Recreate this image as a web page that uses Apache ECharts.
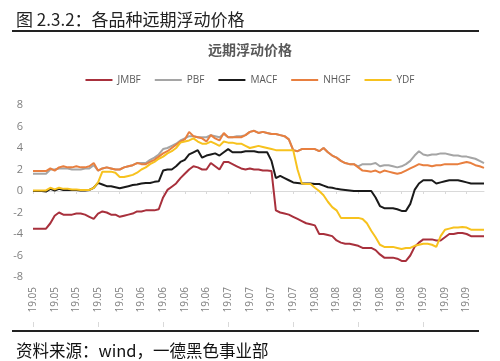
<!DOCTYPE html>
<html>
<head>
<meta charset="utf-8">
<script src="https://cdn.jsdelivr.net/npm/echarts@6/dist/echarts.min.js"></script>
<style>
html,body{margin:0;padding:0;background:#fff;}
#c{width:500px;height:361px;}
</style>
</head>
<body>
<div id="c"></div>
<script>
// Tick labels shown on the x axis (one every 5 trading days)
var tickLabels = ["19.05","19.05","19.05","19.05","19.05","19.06","19.06","19.06","19.06","19.07","19.07","19.07","19.07","19.08","19.08","19.08","19.08","19.08","19.09","19.09","19.09"];
// categories: each tick label covers 5 trading days
var categories = [];
tickLabels.forEach(function (l) { for (var k = 0; k < 5; k++) categories.push(l); });

var seriesNames = ["JMBF", "PBF", "MACF", "NHGF", "YDF"];

var JMBF = [-3.5,-3.5,-3.5,-3.5,-3.0,-2.3,-2.0,-2.2,-2.2,-2.2,-2.1,-2.1,-2.2,-2.4,-2.6,-2.1,-1.9,-2.0,-2.2,-2.2,
  -2.4,-2.3,-2.2,-2.1,-1.9,-1.9,-1.8,-1.8,-1.8,-1.7,-0.6,0.1,0.4,0.7,1.2,1.6,2.0,2.3,2.2,2.0,
  2.0,2.6,2.3,2.0,2.7,2.7,2.5,2.3,2.1,2.0,2.1,2.0,2.0,1.9,1.9,1.85,-1.8,-2.0,-2.1,-2.2,
  -2.4,-2.6,-2.8,-3.0,-3.1,-3.2,-4.0,-4.0,-4.1,-4.2,-4.6,-4.8,-4.9,-4.9,-5.0,-5.1,-5.3,-5.3,-5.3,-5.5,
  -5.9,-6.2,-6.2,-6.2,-6.3,-6.5,-6.5,-6.0,-5.2,-4.8,-4.5,-4.5,-4.5,-4.6,-4.6,-4.3,-4.0,-4.0,-3.9,-3.9,
  -4.0,-4.2,-4.2,-4.2,-4.2];
var PBF = [1.6,1.6,1.6,1.6,2.0,2.0,2.1,2.1,2.1,2.0,2.0,2.0,2.1,2.1,2.4,1.9,2.1,2.2,2.1,2.0,
  2.0,2.2,2.3,2.4,2.6,2.6,2.6,2.9,3.1,3.4,3.9,4.0,4.2,4.4,4.7,4.9,5.1,5.1,5.0,5.0,
  5.0,5.2,5.1,5.0,5.3,5.0,5.0,5.1,5.1,5.2,5.5,5.6,5.4,5.5,5.4,5.3,5.3,5.2,5.1,4.8,
  3.8,3.7,3.9,3.9,3.9,3.9,3.7,4.0,3.6,3.3,3.1,2.8,2.6,2.5,2.5,2.3,2.5,2.5,2.5,2.6,
  2.3,2.4,2.4,2.3,2.2,2.3,2.5,2.8,3.3,3.7,3.4,3.3,3.4,3.4,3.5,3.5,3.4,3.3,3.3,3.2,
  3.2,3.1,3.0,2.8,2.6];
var MACF = [0,0,0,-0.05,0.2,0.05,0.2,0.1,0.1,0.1,0.1,0.05,0.05,0.1,0.3,0.75,0.6,0.45,0.45,0.35,
  0.25,0.35,0.45,0.55,0.6,0.7,0.75,0.75,0.85,0.9,1.9,2.0,2.0,2.3,2.7,2.9,3.4,3.6,3.8,3.1,
  3.3,3.4,3.5,3.3,3.6,3.9,3.6,3.6,3.6,3.7,3.7,3.7,3.6,3.6,3.6,2.8,1.2,1.4,1.2,1.0,
  0.8,0.75,0.7,0.7,0.7,0.65,0.65,0.5,0.35,0.3,0.2,0.15,0.1,0.05,0,0,0,0,0,-0.6,
  -1.4,-1.6,-1.6,-1.6,-1.7,-1.85,-1.85,-1.2,0.1,0.7,1.0,1.0,1.0,0.7,0.8,0.9,1.0,1.0,1.0,0.9,
  0.8,0.7,0.7,0.7,0.7];
var NHGF = [1.85,1.85,1.85,1.85,2.1,1.9,2.2,2.3,2.2,2.2,2.3,2.2,2.2,2.3,2.6,1.9,2.1,2.2,2.1,2.0,
  2.0,2.2,2.3,2.4,2.6,2.5,2.5,2.7,2.9,3.2,3.5,3.7,4.0,4.3,4.6,4.8,5.5,5.1,5.0,4.9,
  4.6,5.2,4.9,4.7,5.4,5.0,5.0,5.0,5.0,5.2,5.5,5.6,5.4,5.5,5.4,5.3,5.3,5.2,5.1,4.8,
  3.8,3.7,3.9,3.9,3.9,3.9,3.7,4.0,3.6,3.3,3.1,2.8,2.6,2.5,2.5,2.2,1.9,1.85,1.8,1.9,
  1.7,1.9,1.8,1.7,1.6,1.7,1.9,2.1,2.3,2.5,2.4,2.4,2.3,2.4,2.4,2.5,2.5,2.5,2.5,2.6,
  2.7,2.6,2.4,2.3,2.15];
var YDF = [0.05,0.05,0.05,0.05,0.3,0.15,0.3,0.2,0.2,0.15,0.15,0.1,0.1,0.1,0.3,0.8,1.8,1.8,1.8,1.7,
  1.3,1.3,1.4,1.5,1.7,2.0,2.2,2.5,2.7,3.0,3.2,3.5,3.7,4.0,4.5,4.6,4.7,4.9,4.6,4.4,
  4.4,4.6,4.4,4.2,4.6,4.5,4.5,4.4,4.4,4.2,4.0,4.1,4.2,4.1,4.0,3.9,3.8,3.8,3.8,3.8,
  3.8,2.0,0.7,0.65,0.65,0.3,0,-0.4,-1.0,-1.5,-1.8,-2.5,-2.5,-2.5,-2.5,-2.5,-2.6,-3.0,-3.7,-4.3,
  -5.0,-5.2,-5.2,-5.2,-5.3,-5.4,-5.3,-5.3,-5.1,-5.0,-4.9,-4.9,-5.0,-5.2,-4.2,-3.6,-3.5,-3.4,-3.4,-3.35,
  -3.4,-3.6,-3.6,-3.6,-3.6];
var seriesData = [JMBF, PBF, MACF, NHGF, YDF];
var colors = ["#A8303C", "#A5A5A5", "#1A1A1A", "#E87F3F", "#F7C21E"];

var yTicks = {min: -8, max: 8, interval: 2};

var chart = echarts.init(document.getElementById('c'), null, {renderer: 'canvas'});
var cjk = '"Noto Sans CJK SC", "Noto Sans", sans-serif';
var lat = '"Open Sans", "Noto Sans", sans-serif';

var option = {
  backgroundColor: '#ffffff',
  animation: false,
  color: colors,
  title: [
    {text: '图 2.3.2：各品种远期浮动价格', left: 11, top: 6,
     textStyle: {fontFamily: cjk, fontSize: 17, fontWeight: 'normal', color: '#222'}},
    {text: '远期浮动价格', left: 'center', top: 38,
     textStyle: {fontFamily: cjk, fontSize: 14, fontWeight: 'bold', color: '#595959'}},
    {text: '资料来源：wind，一德黑色事业部', left: 11, top: 337,
     textStyle: {fontFamily: cjk, fontSize: 16.5, fontWeight: 'normal', color: '#111'}}
  ],
  graphic: [
    {type: 'line', shape: {x1: 12, y1: 31, x2: 479, y2: 31}, style: {stroke: '#222', lineWidth: 2}},
    {type: 'line', shape: {x1: 12, y1: 331, x2: 479, y2: 331}, style: {stroke: '#222', lineWidth: 2}}
  ],
  legend: {
    data: seriesNames, top: 70, left: 'center',
    icon: 'rect', itemWidth: 27, itemHeight: 2, itemGap: 14,
    textStyle: {fontFamily: lat, fontSize: 10, color: '#595959'}
  },
  grid: {left: 33, right: 16, top: 105, bottom: 84, containLabel: false},
  xAxis: [
    {type: 'category', data: categories, boundaryGap: false,
     axisLine: {onZero: true, lineStyle: {color: '#D9D9D9', width: 1}},
     axisTick: {show: true, interval: 4, length: 3, inside: false, lineStyle: {color: '#D9D9D9'}},
     axisLabel: {show: false}, splitLine: {show: false}},
    {type: 'category', data: categories, boundaryGap: false, position: 'bottom',
     axisLine: {show: false, onZero: false}, axisTick: {show: false},
     axisLabel: {show: true, interval: 4, rotate: 90, margin: 10,
                 fontFamily: lat, fontSize: 10, color: '#808080'},
     splitLine: {show: false}},
    {type: 'category', data: categories, boundaryGap: false, position: 'bottom', offset: 45,
     axisLine: {show: false, onZero: false},
     axisTick: {show: true, interval: 14, length: 5, lineStyle: {color: '#D9D9D9'}},
     axisLabel: {show: false}, splitLine: {show: false}}
  ],
  yAxis: {
    type: 'value', min: yTicks.min, max: yTicks.max, interval: yTicks.interval,
    axisLine: {show: false}, axisTick: {show: false}, splitLine: {show: false},
    axisLabel: {fontFamily: lat, fontSize: 11, color: '#808080', margin: 10}
  },
  series: seriesNames.map(function (n, k) {
    return {name: n, type: 'line', xAxisIndex: 0, data: seriesData[k], showSymbol: false, symbol: 'none',
            lineStyle: {width: 2, color: colors[k]}, itemStyle: {color: colors[k]}};
  })
};
chart.setOption(option);
</script>
</body>
</html>
